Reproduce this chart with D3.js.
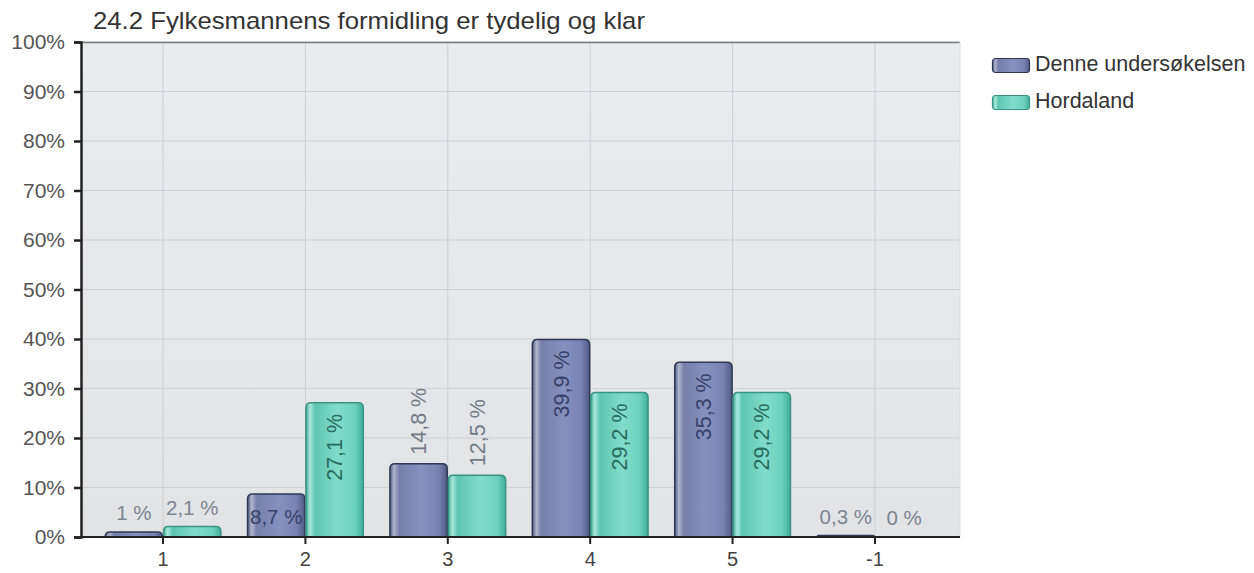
<!DOCTYPE html>
<html><head><meta charset="utf-8">
<script src="https://cdn.jsdelivr.net/npm/d3@7"></script>
<style>body{margin:0;background:#fff;font-family:"Liberation Sans",Arial,sans-serif}</style>
</head><body><svg id="c" width="1254" height="573"></svg>
<script>
const title = "24.2 Fylkesmannens formidling er tydelig og klar";
const categories = ["1","2","3","4","5","-1"];
const seriesNames = ["Denne undersøkelsen","Hordaland"];
const denne = [1, 8.7, 14.8, 39.9, 35.3, 0.3];
const hordaland = [2.1, 27.1, 12.5, 29.2, 29.2, 0];
const yTicks = [0,10,20,30,40,50,60,70,80,90,100];

const FONT = "Liberation Sans, Arial, sans-serif";
const svg = d3.select("#c");
const L = 81, R = 960, T = 42, B = 537;
const x = d3.scaleBand().domain(categories).range([L, 957]).paddingInner(0).paddingOuter(0.076);
const y = d3.scaleLinear().domain([0,100]).range([B, T]);
const defs = svg.append("defs");

function grad(id, stops, vertical){
  const g = defs.append("linearGradient").attr("id", id)
    .attr("x1",0).attr("y1",0).attr("x2", vertical?0:1).attr("y2", vertical?1:0);
  stops.forEach(s => g.append("stop").attr("offset", s[0]).attr("stop-color", s[1]));
}
grad("gBlue", [[0,"#4b5679"],[0.07,"#aeb5cd"],[0.16,"#7580aa"],[0.55,"#8591bf"],[0.85,"#7883b3"],[1,"#4f5a82"]]);
grad("gTeal", [[0,"#3fa691"],[0.07,"#a9e9dc"],[0.16,"#5ec6b1"],[0.55,"#80dccb"],[0.85,"#6dd2bf"],[1,"#3fae98"]]);
grad("gBg", [[0,"#e9ecef"],[1,"#e2e3e5"]], true);

const series = [
  {name: seriesNames[0], values: denne, fill: "url(#gBlue)", stroke: "#2f3957", inText: "#36426a"},
  {name: seriesNames[1], values: hordaland, fill: "url(#gTeal)", stroke: "#3a9483", inText: "#2a6b5e"}
];

// title
svg.append("text").attr("x", 93).attr("y", 29).attr("font-size", 24).attr("fill", "#333")
  .attr("textLength", 552).attr("lengthAdjust", "spacingAndGlyphs").text(title);

// plot bg
svg.append("rect").attr("x", L).attr("y", T).attr("width", R - L).attr("height", B - T).attr("fill", "url(#gBg)");

// grid
svg.append("g").selectAll("line").data(yTicks.slice(1)).join("line")
  .attr("x1", L).attr("x2", R).attr("y1", d => y(d)).attr("y2", d => y(d))
  .attr("stroke", "#cdd0d4").attr("stroke-width", 1);
svg.append("g").selectAll("line").data(categories).join("line")
  .attr("x1", d => x(d) + x.bandwidth()/2).attr("x2", d => x(d) + x.bandwidth()/2)
  .attr("y1", T).attr("y2", B).attr("stroke", "#cdd0d4");
svg.append("line").attr("x1", L).attr("x2", R).attr("y1", T+0.5).attr("y2", T+0.5).attr("stroke", "#777").attr("stroke-width", 1.5);
svg.append("line").attr("x1", R).attr("x2", R).attr("y1", T).attr("y2", B).attr("stroke", "#dcdcdc");

// bars
const bw = x.bandwidth() * 0.41;
function barPath(x0, w, y0, y1){
  const h = y1 - y0; const r = Math.min(5, h, w/2);
  return `M${x0},${y1} L${x0},${y0+r} Q${x0},${y0} ${x0+r},${y0} L${x0+w-r},${y0} Q${x0+w},${y0} ${x0+w},${y0+r} L${x0+w},${y1} Z`;
}
series.forEach((s, si) => {
  const g = svg.append("g");
  categories.forEach((c, i) => {
    const v = s.values[i];
    const cx = x(c) + x.bandwidth()/2;
    const x0 = si === 0 ? cx - bw : cx;
    if (v > 0) {
      g.append("path").attr("d", barPath(x0 + 0.5, bw - 1, y(v), B))
        .attr("fill", s.fill).attr("stroke", s.stroke).attr("stroke-width", 1.5);
    }
    const lab = String(v).replace(".", ",") + " %";
    const bc = x0 + bw/2;
    const top = y(v);
    const t = g.append("text").attr("font-size", 20.5).text(lab);
    if (v >= 20) {
      t.attr("font-size", 21.5).attr("transform", `translate(${bc},${top + 11}) rotate(-90)`).attr("text-anchor", "end")
        .attr("dy", "0.35em").attr("fill", s.inText);
    } else if (v >= 10) {
      t.attr("font-size", 21.5).attr("transform", `translate(${bc},${top - 9}) rotate(-90)`).attr("text-anchor", "start")
        .attr("dy", "0.35em").attr("fill", "#737b88");
    } else if (v >= 5) {
      t.attr("x", bc).attr("y", (top + B)/2).attr("dy", "0.4em").attr("text-anchor", "middle").attr("fill", s.inText);
    } else {
      t.attr("x", bc).attr("y", top - 12).attr("text-anchor", "middle").attr("fill", "#7d8591");
    }
  });
});

// axes
const yAxis = d3.axisLeft(y).tickValues(yTicks).tickFormat(d => d + "%").tickSize(7).tickPadding(9);
const ya = svg.append("g").attr("transform", `translate(${L},0)`).call(yAxis);
ya.select(".domain").attr("stroke", "#222").attr("stroke-width", 2.5);
ya.selectAll(".tick line").attr("stroke", "#222").attr("stroke-width", 2.5);
ya.selectAll("text").attr("font-size", 21).attr("fill", "#555").attr("font-family", FONT);

const xAxis = d3.axisBottom(x).tickSize(7).tickPadding(8).tickSizeOuter(0);
const xa = svg.append("g").attr("transform", `translate(0,${B})`).call(xAxis);
xa.select(".domain").attr("d", `M${L},0H${R}`).attr("stroke", "#222").attr("stroke-width", 2);
xa.selectAll(".tick line").attr("stroke", "#222").attr("stroke-width", 2);
xa.selectAll("text").attr("font-size", 20).attr("fill", "#444").attr("font-family", FONT);

// legend
const lg = svg.append("g").attr("transform", "translate(992,58)");
series.forEach((s, i) => {
  const r = lg.append("g").attr("transform", `translate(0,${i*37})`);
  r.append("rect").attr("x", 0.5).attr("y", 0.5).attr("width", 37).attr("height", 14).attr("rx", 3)
    .attr("fill", s.fill).attr("stroke", s.stroke).attr("stroke-width", 1.2);
  r.append("text").attr("x", 43).attr("y", 13).attr("font-size", 21.5).attr("fill", "#333").text(s.name);
});
</script></body></html>
